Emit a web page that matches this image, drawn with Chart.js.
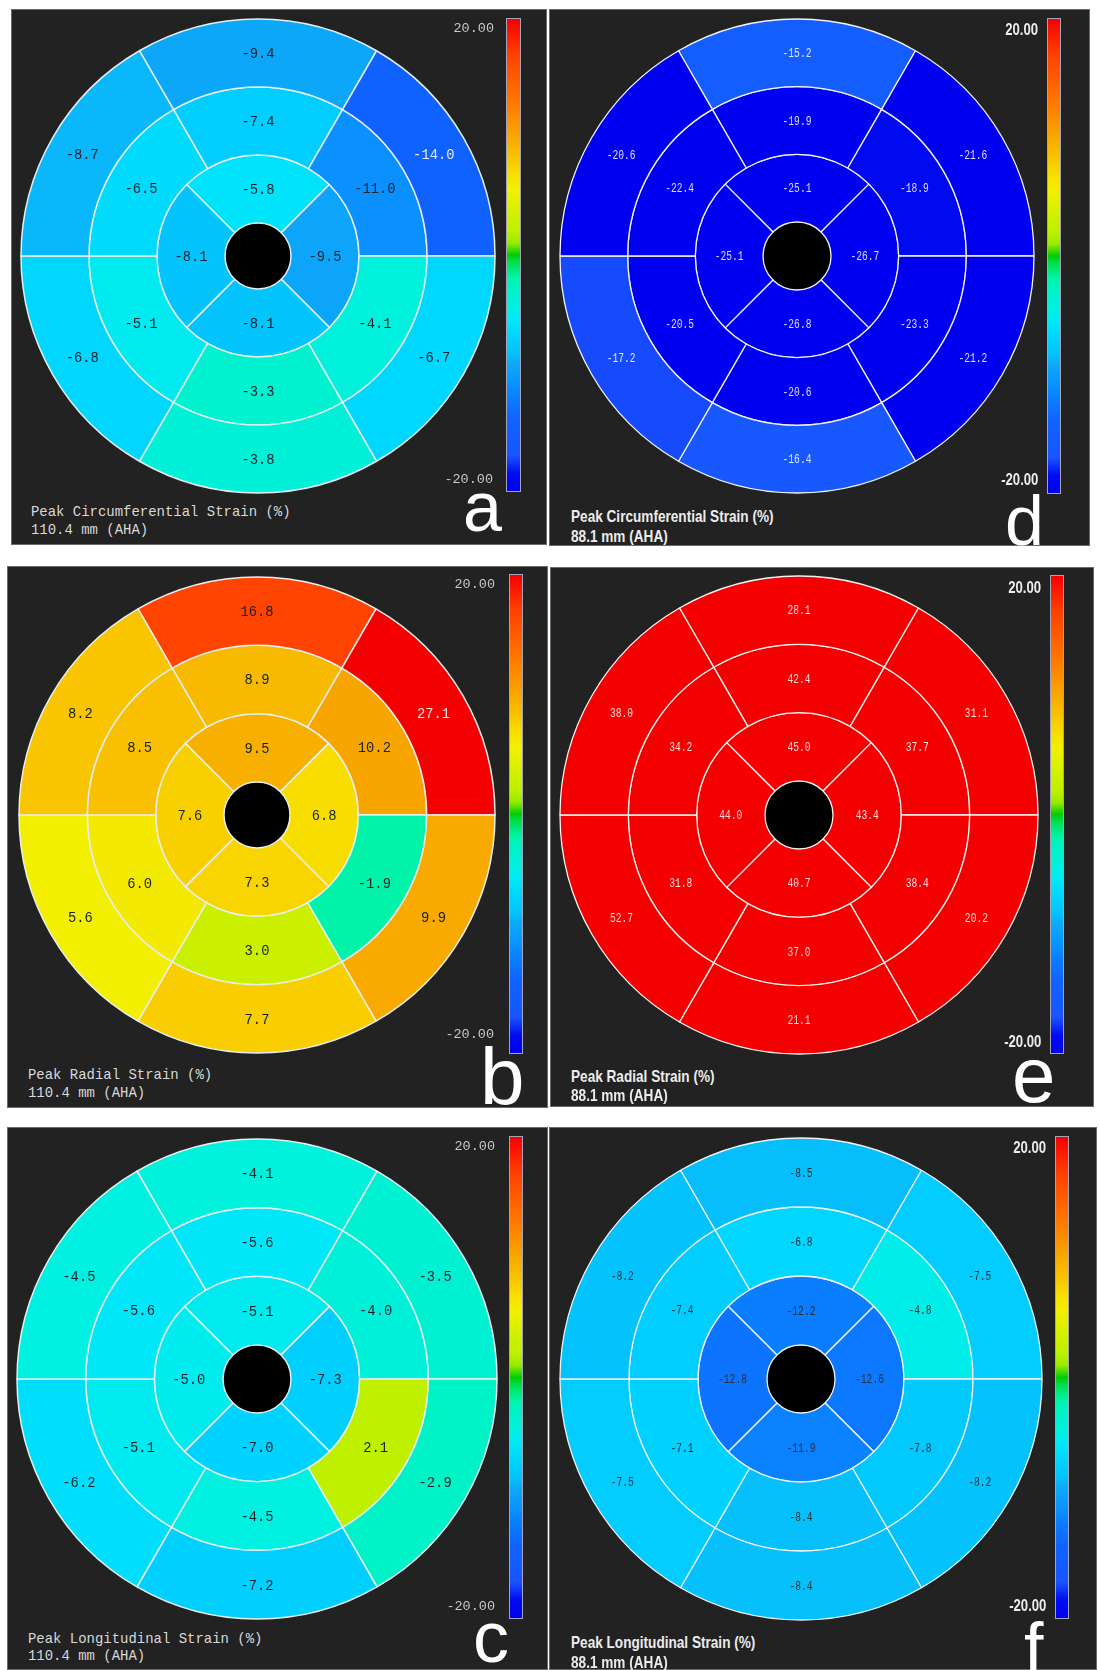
<!DOCTYPE html>
<html>
<head>
<meta charset="utf-8">
<script src="https://cdn.jsdelivr.net/npm/chart.js@4.4.1/dist/chart.umd.min.js"></script>
<style>
html,body{margin:0;padding:0;background:#ffffff;}
body{width:1100px;height:1670px;position:relative;overflow:hidden;}
.panel{position:absolute;background:#222222;overflow:hidden;outline:1px solid #6a6a6a;outline-offset:-1px;}
.panel canvas{position:absolute;}
.txt{position:absolute;white-space:nowrap;}
.cbar{position:absolute;box-sizing:border-box;border:1px solid #a4a4b8;}
</style>
</head>
<body>
<script>
// ---------------- DATA ----------------
// AHA 16-segment bull's-eye values, each ring listed clockwise from the top (anterior) segment
const SEGMENTS_BASAL  = ['Anterior','Anterolateral','Inferolateral','Inferior','Inferoseptal','Anteroseptal'];
const SEGMENTS_MID    = ['Anterior','Anterolateral','Inferolateral','Inferior','Inferoseptal','Anteroseptal'];
const SEGMENTS_APICAL = ['Anterior','Lateral','Inferior','Septal'];

// a: Peak circumferential strain, 110.4 mm
const a_basal  = [-9.4, -14.0, -6.7, -3.8, -6.8, -8.7];
const a_mid    = [-7.4, -11.0, -4.1, -3.3, -5.1, -6.5];
const a_apical = [-5.8, -9.5, -8.1, -8.1];
// b: Peak radial strain, 110.4 mm
const b_basal  = [16.8, 27.1, 9.9, 7.7, 5.6, 8.2];
const b_mid    = [8.9, 10.2, -1.9, 3.0, 6.0, 8.5];
const b_apical = [9.5, 6.8, 7.3, 7.6];
// c: Peak longitudinal strain, 110.4 mm
const c_basal  = [-4.1, -3.5, -2.9, -7.2, -6.2, -4.5];
const c_mid    = [-5.6, -4.0, 2.1, -4.5, -5.1, -5.6];
const c_apical = [-5.1, -7.3, -7.0, -5.0];
// d: Peak circumferential strain, 88.1 mm
const d_basal  = [-15.2, -21.6, -21.2, -16.4, -17.2, -20.6];
const d_mid    = [-19.9, -18.9, -23.3, -20.6, -20.5, -22.4];
const d_apical = [-25.1, -26.7, -26.8, -25.1];
// e: Peak radial strain, 88.1 mm
const e_basal  = [28.1, 31.1, 20.2, 21.1, 52.7, 38.0];
const e_mid    = [42.4, 37.7, 38.4, 37.0, 31.8, 34.2];
const e_apical = [45.0, 43.4, 40.7, 44.0];
// f: Peak longitudinal strain, 88.1 mm
const f_basal  = [-8.5, -7.5, -8.2, -8.4, -7.5, -8.2];
const f_mid    = [-6.8, -4.8, -7.8, -8.4, -7.1, -7.4];
const f_apical = [-12.2, -12.6, -11.9, -12.8];

const PANEL_LETTERS = ['a','b','c','d','e','f'];
const PANEL_TITLES = ['Peak Circumferential Strain (%)','Peak Radial Strain (%)','Peak Longitudinal Strain (%)',
                      'Peak Circumferential Strain (%)','Peak Radial Strain (%)','Peak Longitudinal Strain (%)'];
const PANEL_SUBTITLES = ['110.4 mm (AHA)','110.4 mm (AHA)','110.4 mm (AHA)','88.1 mm (AHA)','88.1 mm (AHA)','88.1 mm (AHA)'];
const COLOR_RANGE = [-20, 20];
const COLORBAR_TICKS = ['20.00', '-20.00'];

const PANEL_DATA = {
  a: [a_basal, a_mid, a_apical], b: [b_basal, b_mid, b_apical], c: [c_basal, c_mid, c_apical],
  d: [d_basal, d_mid, d_apical], e: [e_basal, e_mid, e_apical], f: [f_basal, f_mid, f_apical]
};

// ---------------- STYLE / LAYOUT ----------------
const CMAP_STOPS = [
  [-20,  [0,0,240]],
  [-18.5,[0,12,240]],
  [-17,  [25,85,255]],
  [-14,  [16,98,255]],
  [-12,  [10,128,255]],
  [-11,  [10,145,255]],
  [-9,   [14,172,248]],
  [-8.5, [5,190,251]],
  [-8,   [3,198,253]],
  [-7,   [0,211,255]],
  [-5.5, [0,232,250]],
  [-4.5, [0,240,226]],
  [-3,   [0,242,202]],
  [-2,   [0,245,176]],
  [-0.5, [0,222,70]],
  [0,    [0,205,0]],
  [1,    [150,235,0]],
  [2,    [190,240,0]],
  [3,    [202,240,0]],
  [5.5,  [242,240,0]],
  [6.8,  [248,222,0]],
  [7.5,  [248,210,0]],
  [8.5,  [248,192,0]],
  [10,   [248,168,0]],
  [13,   [255,120,0]],
  [17,   [255,64,0]],
  [20,   [245,0,0]]
];
function colorFor(v){
  const x = Math.max(COLOR_RANGE[0], Math.min(COLOR_RANGE[1], v));
  for (let i = 1; i < CMAP_STOPS.length; i++){
    const [v1, c1] = CMAP_STOPS[i];
    if (x <= v1){
      const [v0, c0] = CMAP_STOPS[i-1];
      const t = (x - v0) / (v1 - v0);
      return 'rgb(' + c0.map((c,k)=>Math.round(c + (c1[k]-c)*t)).join(',') + ')';
    }
  }
  return 'rgb(' + CMAP_STOPS[CMAP_STOPS.length-1][1].join(',') + ')';
}

const LAYOUT = {
  a:{x:11, y:9,    w:536, h:536, cx:258, cy:256,  r:237, hole:33, cb:[506,18,15,474],   tTop:[494,29],   tBot:[493,480],   title:[31,512,530],   letter:[463,531,70],  side:'left'},
  b:{x:7,  y:566,  w:541, h:542, cx:257, cy:815,  r:238, hole:33, cb:[509,574,14,480],  tTop:[495,585],  tBot:[494,1035],  title:[28,1075,1093], letter:[480,1105,80], side:'left'},
  c:{x:7,  y:1127, w:541, h:543, cx:257, cy:1379, r:240, hole:34, cb:[509,1136,14,483], tTop:[495,1147], tBot:[495,1607],  title:[28,1639,1656], letter:[473,1662,72], side:'left'},
  d:{x:549,y:9,    w:541, h:537, cx:797, cy:256,  r:237, hole:34, cb:[1047,18,14,476],  tTop:[1038,30],  tBot:[1038,480],  title:[571,516,536],  letter:[1005,545,70], side:'right'},
  e:{x:550,y:567,  w:544, h:540, cx:799, cy:815,  r:239, hole:34, cb:[1050,575,14,479], tTop:[1041,588], tBot:[1041,1042], title:[571,1076,1095],letter:[1012,1102,78],side:'right'},
  f:{x:549,y:1127, w:548, h:543, cx:801, cy:1379, r:241, hole:34, cb:[1055,1136,14,483],tTop:[1046,1148],tBot:[1046,1606], title:[571,1642,1662],letter:[1024,1672,70],side:'right'}
};

const SIDE_STYLE = {
  left:  {valFont:'15px "Liberation Mono"', valScale:0.92, dark:'#17222c', light:'rgba(255,255,255,0.88)',
          line:'#e6eeee', lineW:1.5,
          tickSize:13.5, tickColor:'#c8c8c8', tickScale:1, tickBold:false,
          titleFont:'"Liberation Mono"', titleSize:15, titleScale:0.93, titleColor:'#d8d8d8', titleBold:false},
  right: {valFont:'12px "Liberation Mono"', valScale:0.8, dark:'#2a2f36', light:'rgba(255,255,255,0.86)',
          line:'#f2f2f2', lineW:1.3,
          tickSize:16, tickColor:'#ececec', tickScale:0.82, tickBold:true,
          titleFont:'"Liberation Sans"', titleSize:17, titleScale:0.8, titleColor:'#ececec', titleBold:true}
};

// ---------------- PLUGINS ----------------
const holePlugin = {
  id:'hole',
  beforeDatasetsDraw(chart){
    const n = chart.data.datasets.length;
    const arc = chart.getDatasetMeta(n-1).data[0];
    if (!arc) return;
    const ctx = chart.ctx;
    ctx.save();
    ctx.beginPath();
    ctx.arc(arc.x, arc.y, arc.innerRadius, 0, Math.PI*2);
    ctx.fillStyle = '#000000';
    ctx.fill();
    ctx.restore();
  }
};
const valueLabelPlugin = {
  id:'valueLabels',
  afterDatasetsDraw(chart, args, opts){
    const ctx = chart.ctx;
    chart.data.datasets.forEach((ds, di) => {
      const meta = chart.getDatasetMeta(di);
      meta.data.forEach((arc, j) => {
        const v = ds.values[j];
        const p = arc.getCenterPoint();
        ctx.save();
        ctx.translate(p.x, p.y);
        ctx.scale(opts.scale, 1);
        ctx.font = opts.font;
        ctx.textAlign = 'center';
        ctx.textBaseline = 'middle';
        ctx.fillStyle = (v <= -13 || v >= 18) ? opts.light : opts.dark;
        ctx.fillText(v.toFixed(1), 0, 1);
        ctx.restore();
      });
    });
  }
};

// ---------------- BUILD ----------------
function addText(panel, L, text, o){
  const el = document.createElement('div');
  el.className = 'txt';
  el.textContent = text;
  el.style.fontFamily = o.family;
  el.style.fontSize = o.size + 'px';
  el.style.fontWeight = o.bold ? 'bold' : 'normal';
  el.style.color = o.color;
  el.style.lineHeight = o.size + 'px';
  el.style.top = (o.y - L.y - o.size*0.5) + 'px';
  if (o.align === 'right'){
    el.style.right = (L.x + L.w - o.x) + 'px';
    el.style.transformOrigin = 'right center';
  } else {
    el.style.left = (o.x - L.x) + 'px';
    el.style.transformOrigin = 'left center';
  }
  if (o.scale && o.scale !== 1) el.style.transform = 'scaleX(' + o.scale + ')';
  panel.appendChild(el);
  return el;
}

const gradientCss = (() => {
  const stops = CMAP_STOPS.slice().reverse().map(([v,c]) => {
    const pos = (COLOR_RANGE[1] - v) / (COLOR_RANGE[1] - COLOR_RANGE[0]) * 100;
    return 'rgb(' + c.join(',') + ') ' + pos.toFixed(2) + '%';
  });
  return 'linear-gradient(to bottom, ' + stops.join(', ') + ')';
})();

PANEL_LETTERS.forEach((id, idx) => {
  const L = LAYOUT[id];
  const S = SIDE_STYLE[L.side];
  const panel = document.createElement('div');
  panel.className = 'panel';
  panel.style.left = L.x + 'px'; panel.style.top = L.y + 'px';
  panel.style.width = L.w + 'px'; panel.style.height = L.h + 'px';
  document.body.appendChild(panel);

  // bull's-eye chart
  const pad = 3;
  const size = 2*(L.r + pad);
  const canvas = document.createElement('canvas');
  canvas.width = size; canvas.height = size;
  canvas.style.width = size + 'px'; canvas.style.height = size + 'px';
  canvas.style.left = (L.cx - L.r - pad - L.x) + 'px';
  canvas.style.top = (L.cy - L.r - pad - L.y) + 'px';
  panel.appendChild(canvas);

  const rings = PANEL_DATA[id];
  const ringNames = [SEGMENTS_BASAL, SEGMENTS_MID, SEGMENTS_APICAL];
  const datasets = rings.map((vals, ri) => ({
    label: ['Basal','Mid','Apical'][ri],
    data: vals.map(() => 1),          // equal angular share per segment
    values: vals,
    segmentNames: ringNames[ri],
    backgroundColor: vals.map(colorFor),
    borderColor: S.line,
    borderWidth: S.lineW,
    rotation: ri === 2 ? -45 : -30
  }));

  new Chart(canvas, {
    type: 'doughnut',
    data: { labels: SEGMENTS_BASAL, datasets },
    options: {
      responsive: false,
      animation: false,
      events: [],
      radius: L.r,
      cutout: (L.hole / L.r * 100) + '%',
      layout: { padding: 0 },
      plugins: {
        legend: { display: false },
        tooltip: { enabled: false },
        valueLabels: { font: S.valFont, scale: S.valScale, dark: S.dark, light: S.light }
      }
    },
    plugins: [holePlugin, valueLabelPlugin]
  });

  // colour bar
  const cb = document.createElement('div');
  cb.className = 'cbar';
  cb.style.left = (L.cb[0] - L.x) + 'px';
  cb.style.top = (L.cb[1] - L.y) + 'px';
  cb.style.width = L.cb[2] + 'px';
  cb.style.height = L.cb[3] + 'px';
  cb.style.background = gradientCss;
  panel.appendChild(cb);

  const tickFamily = L.side === 'left' ? '"Liberation Mono"' : '"Liberation Sans"';
  addText(panel, L, COLORBAR_TICKS[0], {x:L.tTop[0], y:L.tTop[1], align:'right', family:tickFamily, size:S.tickSize, bold:S.tickBold, color:S.tickColor, scale:S.tickScale});
  addText(panel, L, COLORBAR_TICKS[1], {x:L.tBot[0], y:L.tBot[1], align:'right', family:tickFamily, size:S.tickSize, bold:S.tickBold, color:S.tickColor, scale:S.tickScale});

  // titles
  addText(panel, L, PANEL_TITLES[idx], {x:L.title[0], y:L.title[1], family:S.titleFont, size:S.titleSize, bold:S.titleBold, color:S.titleColor, scale:S.titleScale});
  addText(panel, L, PANEL_SUBTITLES[idx], {x:L.title[0], y:L.title[2], family:S.titleFont, size:S.titleSize, bold:S.titleBold, color:S.titleColor, scale:S.titleScale});

  // panel letter (baseline positioned)
  const fs = L.letter[2];
  const le = document.createElement('div');
  le.className = 'txt';
  le.textContent = id;
  le.style.fontFamily = '"Liberation Sans", Arial, sans-serif';
  le.style.fontSize = fs + 'px';
  le.style.lineHeight = fs + 'px';
  le.style.color = '#ffffff';
  le.style.left = (L.letter[0] - L.x) + 'px';
  le.style.top = (L.letter[1] - L.y - 0.8465*fs) + 'px';
  panel.appendChild(le);
});
</script>
</body>
</html>
